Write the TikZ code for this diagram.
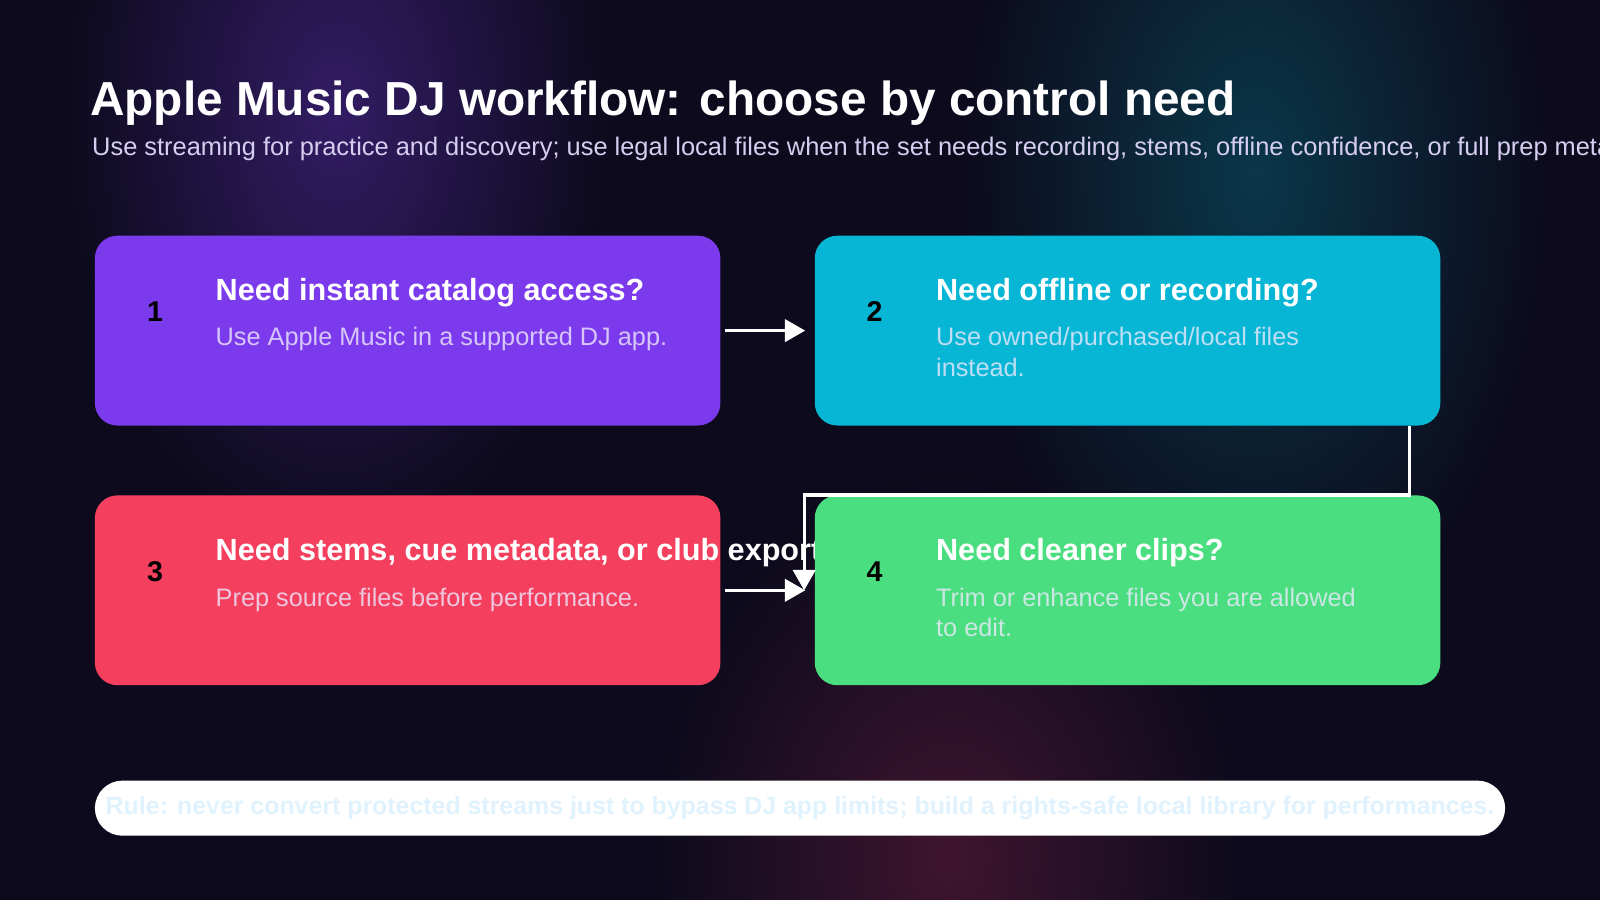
\documentclass[tikz,border=0pt]{standalone}
\usepackage{fontspec}
\setmainfont{Liberation Sans}
\usetikzlibrary{arrows.meta}
\usetikzlibrary{positioning}
\definecolor{bgdark}{HTML}{0C0A1C}
\definecolor{glowpurple}{HTML}{321C64}
\definecolor{glowteal}{HTML}{0A3749}
\definecolor{glowred}{HTML}{3E152E}
\definecolor{cpurple}{HTML}{7C3AED}
\definecolor{ccyan}{HTML}{06B6D4}
\definecolor{cred}{HTML}{F43F5E}
\definecolor{cgreen}{HTML}{4ADE80}
\definecolor{subtxt}{HTML}{D6CEF0}
\definecolor{bodytxt}{HTML}{EDE9FE}
\definecolor{ruletxt}{HTML}{E0F2FE}
\tikzset{card/.style = {rounded corners = 11pt, inner sep = 0,
                        minimum width = 306.5pt, minimum height = 93pt}}
\tikzset{num/.style = {inner sep = 0, font = \fontsize{14}{16}\selectfont\bfseries, text = black}}
\tikzset{head/.style = {anchor = base west, inner sep = 0, text = white,
                        font = \fontsize{15}{18}\selectfont\bfseries}}
\tikzset{body/.style = {anchor = base west, inner sep = 0, text = bodytxt, text opacity = 0.8,
                        align = left, font = \fontsize{12.4}{15}\selectfont}}
\tikzset{flow/.style = {draw = white, line width = 1.5pt,
                        -{Triangle[length = 10pt, width = 11pt]}}}

\begin{document}
\begin{tikzpicture}[x = 0.5pt, y = -0.5pt]
      \clip (0, 0) rectangle (1568, 882);
      \fill [bgdark] (0, 0) rectangle (1568, 882);
      \shade [inner color = glowpurple, outer color = bgdark] (330, 110) ellipse (270 and 440);
      \shade [inner color = glowteal, outer color = bgdark] (1230, 170) ellipse (290 and 480);
      \shade [inner color = glowred, outer color = bgdark] (930, 840) ellipse (290 and 380);

      \node [anchor = base west, inner sep = 0, text = white, font = \fontsize{23.4}{28}\selectfont\bfseries]
            (title) at (88, 113) {Apple Music DJ workflow: choose by control need};
      \node [anchor = base west, inner sep = 0, text = subtxt, font = \fontsize{12.45}{14}\selectfont]
            (sub) at (90, 152) {Use streaming for practice and discovery; use legal local files when the set needs recording, stems, offline confidence, or full prep metadata.};

      \node [card, fill = cpurple] (c1) at (399.5, 324) {};
      \node [num] (n1) at (152, 305) {1};
      \node [head] (h1) at (211, 294) {Need instant catalog access?};
      \node [body] (b1) at (211, 339) {Use Apple Music in a supported DJ app.};

      \node [card, fill = ccyan] (c2) at (1105, 324) {};
      \node [num] (n2) at (857, 305) {2};
      \node [head] (h2) at (917, 294) {Need offline or recording?};
      \node [body] (b2) at (917, 369) {Use owned/purchased/local files\\instead.};

      \node [card, fill = cred] (c3) at (399.5, 578.5) {};
      \node [num] (n3) at (152, 560) {3};
      \node [head] (h3) at (211, 549) {Need stems, cue metadata, or club export?};
      \node [body] (b3) at (211, 594) {Prep source files before performance.};

      \node [card, fill = cgreen] (c4) at (1105, 578.5) {};
      \node [num] (n4) at (857, 560) {4};
      \node [head] (h4) at (917, 549) {Need cleaner clips?};
      \node [body] (b4) at (917, 624) {Trim or enhance files you are allowed\\to edit.};

      \draw [flow, shorten < = 2pt, shorten > = 4.5pt] (c1.east) -- (c2.west);
      \draw [flow, shorten < = 2pt, shorten > = 4.5pt] (c3.east) -- (c4.west);
      \coordinate (turn) at ([xshift = -5pt] c4.north west);
      \draw [flow] ([xshift = -15.5pt] c2.south east) |- (turn) -- ([xshift = -5pt] c4.west);

      \node [fill = white, rounded corners = 13.5pt, minimum width = 691pt, minimum height = 27pt,
             text = ruletxt, font = \fontsize{12.2}{14}\selectfont\bfseries]
            (rule) at (784, 792) {Rule: never convert protected streams just to bypass DJ app limits; build a rights-safe local library for performances.};
\end{tikzpicture}
\end{document}
